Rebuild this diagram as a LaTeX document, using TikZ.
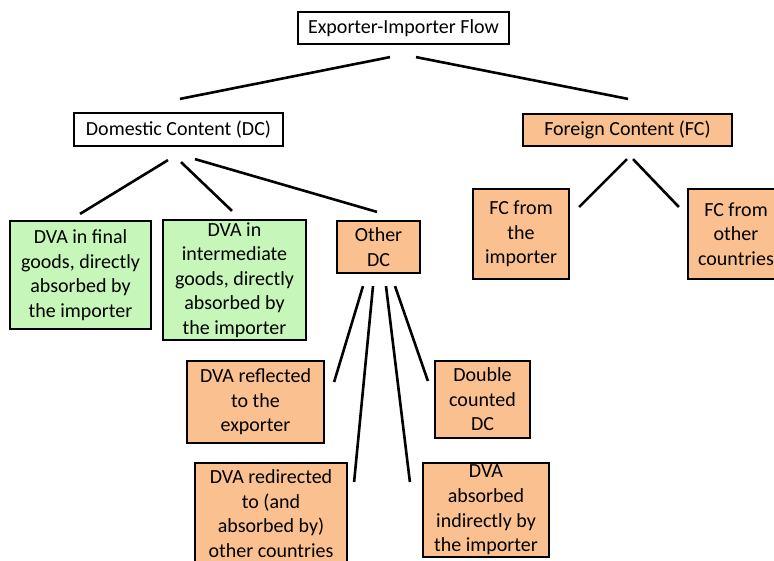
\documentclass[tikz,border=0pt]{standalone}
\usepackage{fontspec}
\setmainfont{Carlito}
\usetikzlibrary{calc}
\definecolor{boxgreen}{RGB}{198,246,184}
\definecolor{boxorange}{RGB}{250,192,144}
\tikzset{
  box/.style={draw=black, line width=2.2pt, fill=white, align=center, inner sep=0pt,
    font=\fontsize{20}{24.6}\selectfont},
  greenbox/.style={box, fill=boxgreen},
  orangebox/.style={box, fill=boxorange},
  link/.style={line width=2.6pt, line cap=butt}
}

\begin{document}
\begin{tikzpicture}[x=1pt, y=-1pt]
			%%%%% START %%%%%
			\clip (0, 0) rectangle (774, 560);
			\fill[white] (0, 0) rectangle (774, 560);
			
			\node[box, minimum width=211pt, minimum height=32pt] (flow) at (403.5, 28) {Exporter-Importer Flow};
			
			\node[box, minimum width=209pt, minimum height=33pt] (dc) at (178.5, 129.5) {Domestic Content (DC)};
			\node[orangebox, minimum width=209pt, minimum height=32pt] (fc) at (627.5, 130) {Foreign Content (FC)};
			
			\node[greenbox, minimum width=141pt, minimum height=108pt] (final) at (80.5, 275) {DVA in final\\goods, directly\\absorbed by\\the importer};
			\node[greenbox, minimum width=143pt, minimum height=120pt] (inter) at (234.5, 280) {DVA in\\intermediate\\goods, directly\\absorbed by\\the importer};
			\node[orangebox, minimum width=83pt, minimum height=52pt] (other) at (378.5, 247) {Other\\DC};
			
			\node[orangebox, minimum width=96pt, minimum height=90pt] (fcimp) at (521, 234) {FC from\\the\\importer};
			\node[orangebox, minimum width=96pt, minimum height=90pt] (fcoth) at (736, 234) {FC from\\other\\countries};
			
			\node[orangebox, minimum width=137pt, minimum height=82pt] (refl) at (255.5, 402) {DVA reflected\\to the\\exporter};
			\node[orangebox, minimum width=95pt, minimum height=77pt] (double) at (482.5, 399.5) {Double\\counted\\DC};
			\node[orangebox, minimum width=152pt, minimum height=101pt] (redir) at (271, 513.5) {DVA redirected\\to (and\\absorbed by)\\other countries};
			\node[orangebox, minimum width=126pt, minimum height=94pt] (absorb) at (486, 510) {DVA\\absorbed\\indirectly by\\the importer};
			
			% top level
			\draw[link] ($(flow.south)+(-13.5, 12)$) -- ($(dc.north)+(1.5, -13)$);
			\draw[link] ($(flow.south)+(12.5, 12)$) -- ($(fc.north)+(0.5, -14)$);
			
			% domestic content
			\draw[link] ($(dc.south)+(-10.5, 13)$) -- ($(final.north)+(-0.5, -6)$);
			\draw[link] ($(dc.south)+(2.5, 15)$) -- ($(inter.north)+(-2.5, -8)$);
			\draw[link] ($(dc.south)+(16.5, 12)$) -- ($(other.north)+(-1.5, -8)$);
			
			% foreign content
			\draw[link] ($(fc.south)+(-0.5, 12)$) -- ($(fcimp.east)+(9, -27)$);
			\draw[link] ($(fc.south)+(5.5, 12)$) -- ($(fcoth.west)+(-8, -27)$);
			
			% other DC
			\draw[link] ($(other.south)+(-15.5, 12)$) -- ($(refl.east)+(9, -20)$);
			\draw[link] ($(other.south)+(-5.5, 12)$) -- ($(redir.east)+(6, -31.5)$);
			\draw[link] ($(other.south)+(7.5, 12)$) -- ($(absorb.west)+(-12, -28)$);
			\draw[link] ($(other.south)+(16.5, 12)$) -- ($(double.west)+(-6, -18.5)$);
			%%%%% END %%%%%
\end{tikzpicture}
\end{document}
